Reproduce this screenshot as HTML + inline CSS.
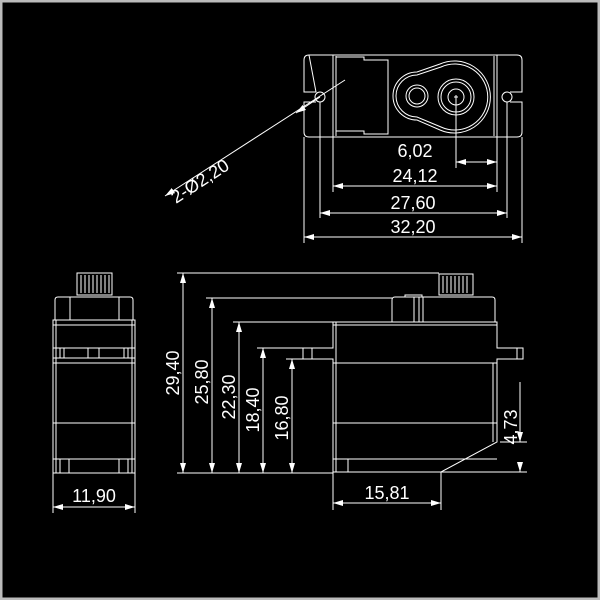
<!DOCTYPE html>
<html><head><style>
html,body{margin:0;padding:0;background:#000;}
svg{display:block;}
text{font-family:"Liberation Sans",sans-serif;font-size:18px;fill:#fff;}
</style></head><body>
<svg width="600" height="600" viewBox="0 0 600 600" xmlns="http://www.w3.org/2000/svg">
<defs>
<marker id="a" viewBox="0 0 10 6" refX="10" refY="3" markerWidth="10" markerHeight="6" orient="auto-start-reverse" markerUnits="userSpaceOnUse"><path d="M0,0 L10,3 L0,6z" fill="#fff"/></marker>
</defs>
<rect x="0" y="0" width="600" height="600" fill="#000"/>
<path d="M0,0H600V600H0Z" fill="none" stroke="#bbb" stroke-width="5"/>
<g stroke="#fff" stroke-width="1" fill="none">
<path d="M309,55H517Q522,55 522,60V92H510M510,102H522V132Q522,137 517,137H309Q304,137 304,132V102H316M316,92H304V60Q304,55 309,55Z"/>
<circle cx="320" cy="97" r="5"/><circle cx="507" cy="97" r="5"/>
<path d="M333,55V137M336,56V136M494,56V136M497,55V137"/>
<path d="M336,57H364V60H388V134H364V131H336"/>
<path d="M417,72A24,24 0 0 0 417,120L440,130A36,36 0 1 0 440,64Z"/>
<path d="M417,75A21,21 0 0 0 417,117L441,127A33,33 0 1 0 441,67Z"/>
<circle cx="417" cy="96" r="11"/><circle cx="417" cy="96" r="8"/>
<circle cx="456" cy="97" r="18"/><circle cx="456" cy="97" r="15"/><circle cx="456" cy="97" r="8"/>
<path d="M454,97H458M456,95V99"/>
<path d="M456,97V168M497,137V192M333,137V192M320,102V218M507,102V218M304,137V243M522,137V243"/>
<path d="M456,162H497" marker-start="url(#a)" marker-end="url(#a)"/>
<path d="M333,186H497" marker-start="url(#a)" marker-end="url(#a)"/>
<path d="M320,213H507" marker-start="url(#a)" marker-end="url(#a)"/>
<path d="M304,237H522" marker-start="url(#a)" marker-end="url(#a)"/>
<path d="M345,80L165,196" marker-end="url(#a)"/>
<path d="M296,113L320,97" marker-start="url(#a)"/>
<path d="M439,274H473V295H439Z"/>
<path d="M443,276V293M447,276V293M451,276V293M455,276V293M459,276V293M463,276V293M467,276V293"/>
<path d="M392,322V300Q392,297 395,297H492Q495,297 495,300V322"/>
<path d="M405,297V295H422V297M414,297V322M419,297V322M423,297V322"/>
<path d="M333,322H497V348H523V359H497V442L441,472H333V359H303V348H333Z"/>
<path d="M333,325H497M312,348V359M517,348V359M333,363H497M333,423H497M493,363V442M333,459H497M348,459V472M336,322V472"/>
<path d="M500,442H527M441,472H527"/>
<path d="M520,382V442" marker-end="url(#a)"/>
<path d="M520,472L520,462" marker-start="url(#a)"/>
<path d="M333,472V510M441,472V510"/>
<path d="M333,503H441" marker-start="url(#a)" marker-end="url(#a)"/>
<path d="M77,273H112V295H77Z"/>
<path d="M81,275V293M85,275V293M89,275V293M93,275V293M97,275V293M101,275V293M105,275V293M109,275V293"/>
<path d="M55,320V300Q55,297 58,297H130Q133,297 133,300V320"/>
<path d="M70,297V320M119,297V320"/>
<path d="M53,320H135V473H53Z"/>
<path d="M53,325H135M53,348H135M53,358H135M53,363H135M53,423H135M53,459H135M56,320V473M132,320V473"/>
<path d="M60,348V358M64,348V358M88,348V358M99,348V358M124,348V358M128,348V358"/>
<path d="M60,459V473M69,459V473M119,459V473M128,459V473"/>
<path d="M53,473V513M135,473V513"/>
<path d="M53,507H135" marker-start="url(#a)" marker-end="url(#a)"/>
<path d="M177,473H333M177,273H439M206,298H392M233,322H333M257,348H303M286,359H303"/>
<path d="M183,273V473" marker-start="url(#a)" marker-end="url(#a)"/>
<path d="M212,298V473" marker-start="url(#a)" marker-end="url(#a)"/>
<path d="M239,322V473" marker-start="url(#a)" marker-end="url(#a)"/>
<path d="M263,348V473" marker-start="url(#a)" marker-end="url(#a)"/>
<path d="M292,359V473" marker-start="url(#a)" marker-end="url(#a)"/>
</g>
<g>
<text x="415" y="157" text-anchor="middle">6,02</text>
<text x="415" y="182" text-anchor="middle">24,12</text>
<text x="413" y="209" text-anchor="middle">27,60</text>
<text x="413" y="233" text-anchor="middle">32,20</text>
<text transform="translate(176,204) rotate(-33)">2-Ø2,20</text>
<text x="387" y="499" text-anchor="middle">15,81</text>
<text x="94" y="502" text-anchor="middle">11,90</text>
<text transform="translate(517,427) rotate(-90)" text-anchor="middle">4,73</text>
<text transform="translate(179,373) rotate(-90)" text-anchor="middle">29,40</text>
<text transform="translate(208,382) rotate(-90)" text-anchor="middle">25,80</text>
<text transform="translate(235,397) rotate(-90)" text-anchor="middle">22,30</text>
<text transform="translate(259,410) rotate(-90)" text-anchor="middle">18,40</text>
<text transform="translate(288,418) rotate(-90)" text-anchor="middle">16,80</text>
</g>
</svg>
</body></html>
